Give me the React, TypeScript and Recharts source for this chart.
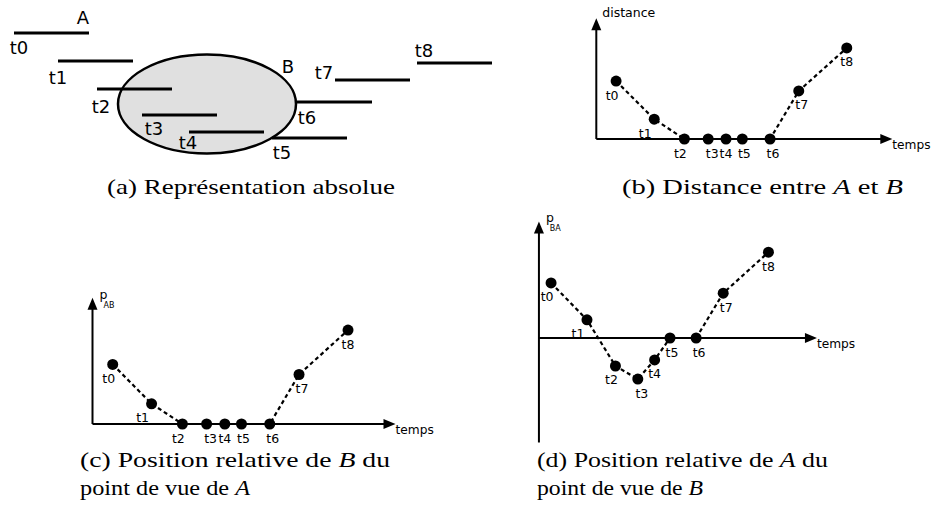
import React from "react";
import {
  ComposedChart,
  Line,
  Scatter,
  XAxis,
  YAxis,
  ReferenceLine,
  ReferenceDot,
  LabelList,
} from "recharts";

// ── Données ─────────────────────────────────────────────────────────────
const instants = ["t0", "t1", "t2", "t3", "t4", "t5", "t6", "t7", "t8"];

// (a) segment A à chaque instant : abscisse de début et hauteur
const debutA = [14, 58, 97, 142, 189, 272, 297, 335, 417];
const hauteurA = [142, 114, 86, 60, 43, 37, 73, 95, 112];
const longueurA = 75;
// zone B : centre et demi-axes de l'ellipse
const zoneB = { x: 207, y: 71, rx: 89, ry: 49.5 };

// (b), (c), (d) : valeurs en fonction du temps
const temps = [20, 58.5, 89, 113, 131, 147.5, 175.5, 204.5, 253];
const distanceAB = [58.5, 20, 0, 0, 0, 0, 0, 48.5, 92];
const positionAB = [59, 20, 0, 0, 0, 0, 0, 49, 93];
const positionBA = [59, 19.5, -30, -44, -23.5, 0, 0, 48, 92];

// ── Styles ──────────────────────────────────────────────────────────────
const SANS = "DejaVu Sans";
const SERIF = "Liberation Serif";
// décalages horizontaux des étiquettes t0..t8 sous les points
const decalEtiquette = [-4, -9, -4, 4, 0, 2, 3, 3, 0];
// décalages des étiquettes du schéma (a) par rapport au début du segment
const decalA = [
  [5, 14], [0, 16], [4, 17], [12, 13], [-1, 10], [10, 14], [10, 15], [-11, -8], [7, -13],
];
const vide = () => <g />;

// ── (a) Représentation absolue ──────────────────────────────────────────
function CadreA({ children }: { children: React.ReactNode }) {
  return (
    <div style={{ position: "absolute", left: 0, top: 0 }}>
      <ComposedChart width={500} height={175} margin={{ top: 0, right: 0, bottom: 0, left: 0 }}>
        <XAxis type="number" dataKey="x" domain={[0, 500]} hide allowDataOverflow />
        <YAxis type="number" dataKey="y" domain={[0, 175]} hide allowDataOverflow />
        {children}
      </ComposedChart>
    </div>
  );
}

function SchemaAbsolu() {
  const labels = instants.map((nom, i) => ({ x: debutA[i], y: hauteurA[i], nom }));
  return (
    <>
      {/* fond : zone B */}
      <CadreA>
        <Scatter
          data={[zoneB]}
          isAnimationActive={false}
          shape={(p: any) => (
            <g>
              <ellipse cx={p.cx} cy={p.cy} rx={zoneB.rx} ry={zoneB.ry} fill="#e0e0e0" stroke="#000" strokeWidth={2.5} />
              <text x={p.cx + 81} y={p.cy - 38} textAnchor="middle" dominantBaseline="central" fontFamily={SANS} fontSize={18}>B</text>
            </g>
          )}
        />
      </CadreA>
      {/* premier plan : segments A */}
      <CadreA>
        {instants.map((nom, i) => (
          <Scatter
            key={nom}
            data={[
              { x: debutA[i], y: hauteurA[i] },
              { x: debutA[i] + longueurA, y: hauteurA[i] },
            ]}
            line={{ stroke: "#000", strokeWidth: 3 }}
            shape={vide}
            isAnimationActive={false}
          />
        ))}
        <Scatter
          data={labels}
          isAnimationActive={false}
          shape={(p: any) => {
            const i = instants.indexOf(p.payload.nom);
            return (
              <g>
                <text x={p.cx + decalA[i][0]} y={p.cy + decalA[i][1]} textAnchor="middle" dominantBaseline="central" fontFamily={SANS} fontSize={18}>
                  {p.payload.nom}
                </text>
                {i === 0 && (
                  <text x={p.cx + longueurA - 6} y={p.cy - 16} textAnchor="middle" dominantBaseline="central" fontFamily={SANS} fontSize={18}>A</text>
                )}
              </g>
            );
          }}
        />
      </CadreA>
    </>
  );
}

// ── (b), (c), (d) courbes ───────────────────────────────────────────────
interface CourbeProps {
  left: number;
  top: number;
  width: number;
  height: number;
  echelle: number; // px par unité
  x0: number; // px du temps 0
  y0: number; // px de la valeur 0
  valeurs: number[];
  axeX: number;
  hautAxe: number;
  basAxe: number;
  finAxe: number;
  titre: (x: number, y: number) => React.ReactNode;
}

function Courbe({ left, top, width, height, echelle, x0, y0, valeurs, axeX, hautAxe, basAxe, finAxe, titre }: CourbeProps) {
  const data = instants.map((nom, i) => ({ nom, t: temps[i], v: valeurs[i] }));
  const xDomain = [(left - x0) / echelle, (left + width - x0) / echelle];
  const yDomain = [(y0 - top - height) / echelle, (y0 - top) / echelle];
  const fleche = 11 / echelle;
  return (
    <div style={{ position: "absolute", left, top }}>
      <ComposedChart width={width} height={height} data={data} margin={{ top: 0, right: 0, bottom: 0, left: 0 }}>
        <XAxis type="number" dataKey="t" domain={xDomain} hide allowDataOverflow />
        <YAxis type="number" domain={yDomain} hide allowDataOverflow />
        <ReferenceLine segment={[{ x: axeX, y: basAxe }, { x: axeX, y: hautAxe - fleche }]} stroke="#000" strokeWidth={2} />
        <ReferenceLine segment={[{ x: axeX, y: 0 }, { x: finAxe - fleche, y: 0 }]} stroke="#000" strokeWidth={2} />
        <ReferenceDot
          x={axeX}
          y={hautAxe}
          shape={(p: any) => (
            <g>
              <path d={`M${p.cx},${p.cy} L${p.cx - 5},${p.cy + 12} L${p.cx + 5},${p.cy + 12} Z`} fill="#000" />
              {titre(p.cx, p.cy)}
            </g>
          )}
        />
        <ReferenceDot
          x={finAxe}
          y={0}
          shape={(p: any) => (
            <g>
              <path d={`M${p.cx},${p.cy} L${p.cx - 12},${p.cy - 5} L${p.cx - 12},${p.cy + 5} Z`} fill="#000" />
              <text x={p.cx} y={p.cy + 10} fontFamily={SANS} fontSize={12.2}>temps</text>
            </g>
          )}
        />
        <Line
          type="linear"
          dataKey="v"
          stroke="#000"
          strokeWidth={2.2}
          strokeDasharray="4 3"
          dot={{ r: 5.5, fill: "#000", stroke: "#000", strokeWidth: 0 }}
          activeDot={false}
          isAnimationActive={false}
        >
          <LabelList
            dataKey="nom"
            content={(p: any) => (
              <text
                x={p.x + (decalEtiquette[p.index] ?? 0)}
                y={p.y + 14}
                textAnchor="middle"
                dominantBaseline="central"
                fontFamily={SANS}
                fontSize={12.5}
              >
                {p.value}
              </text>
            )}
          />
        </Line>
      </ComposedChart>
    </div>
  );
}

const titreDistance = (x: number, y: number) => (
  <text x={x + 6} y={y - 1} fontFamily={SANS} fontSize={12.5}>distance</text>
);
const titreP = (indice: string) => (x: number, y: number) => (
  <text x={x + 7} y={y + 1} fontFamily={SANS} fontSize={12.5}>
    p
    <tspan fontSize={8} dx={-4} dy={9}>{indice}</tspan>
  </text>
);

// ── Légendes ────────────────────────────────────────────────────────────
function Legende({ x, y, w, children }: { x: number; y: number; w: number; children: React.ReactNode }) {
  return (
    <text x={x} y={y} textLength={w} lengthAdjust="spacingAndGlyphs" fontFamily={SERIF} fontSize={22}>
      {children}
    </text>
  );
}
const it = (s: string) => <tspan fontStyle="italic">{s}</tspan>;

export default function App() {
  return (
    <div style={{ position: "absolute", left: 0, top: 0, width: 931, height: 518, background: "#fff", overflow: "hidden" }}>
      <SchemaAbsolu />
      <Courbe left={580} top={0} width={351} height={175} echelle={0.99} x0={596.3} y0={139}
        valeurs={distanceAB} axeX={0} hautAxe={122} basAxe={0} finAxe={299} titre={titreDistance} />
      <Courbe left={75} top={280} width={370} height={175} echelle={1.01} x0={92.5} y0={424}
        valeurs={positionAB} axeX={0} hautAxe={125} basAxe={0} finAxe={300} titre={titreP("AB")} />
      <Courbe left={515} top={205} width={350} height={250} echelle={0.933} x0={532.4} y0={338}
        valeurs={positionBA} axeX={7} hautAxe={125} basAxe={-112} finAxe={305} titre={titreP("BA")} />
      <svg width={931} height={518} style={{ position: "absolute", left: 0, top: 0, pointerEvents: "none" }}>
        <Legende x={107} y={194} w={288}>(a) Représentation absolue</Legende>
        <Legende x={622} y={194} w={281}>(b) Distance entre {it("A")} et {it("B")}</Legende>
        <Legende x={80} y={467} w={310}>(c) Position relative de {it("B")} du</Legende>
        <Legende x={80} y={495} w={170}>point de vue de {it("A")}</Legende>
        <Legende x={537} y={467} w={291}>(d) Position relative de {it("A")} du</Legende>
        <Legende x={537} y={495} w={166}>point de vue de {it("B")}</Legende>
      </svg>
    </div>
  );
}
